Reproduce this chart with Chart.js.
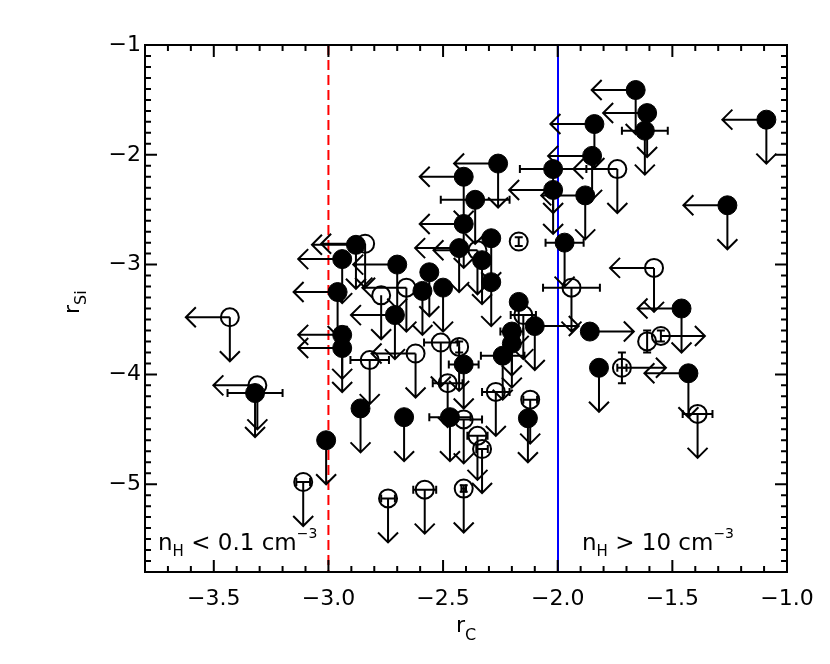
<!DOCTYPE html>
<html>
<head>
<meta charset="utf-8">
<script src="https://cdn.jsdelivr.net/npm/chart.js@4.4.1/dist/chart.umd.min.js"></script>
<style>
  html, body { margin: 0; padding: 0; background: #fff; }
  #wrap { width: 830px; height: 664px; }
</style>
</head>
<body>
<div id="wrap"><canvas id="c"></canvas></div>
<script>
// r_Si vs r_C, upper limits as arrows
const X_TICKS = [-3.5, -3.0, -2.5, -2.0, -1.5, -1.0];
const Y_TICKS = [-5, -4, -3, -2, -1];

const rC = [
  -3.43, -3.31, -3.32, -3.11, -3.01, -2.86, -2.74, -2.58, -2.41, -2.67,
  -2.47, -2.41, -2.48, -2.41, -2.51, -2.43, -2.27, -2.12, -2.13, -2.35,
  -2.33, -2.24, -2.20, -2.20, -2.10, -2.15, -2.17, -2.29, -2.50, -2.59,
  -2.66, -2.56, -2.77, -2.70, -2.71, -2.88, -2.84, -2.94, -2.96, -2.94,
  -2.94, -2.82, -2.62, -2.33, -2.35, -2.43, -2.29, -2.41, -2.36, -2.41,
  -2.26, -2.17, -1.97, -1.94, -2.02, -2.02, -1.88, -1.84, -1.85, -1.74,
  -1.66, -1.61, -1.62, -1.09, -1.26, -1.58, -1.46, -1.86, -1.61, -1.55,
  -1.82, -1.72, -1.43, -1.39
];
const rSi = [
  -3.48, -4.10, -4.17, -4.98, -4.60, -4.31, -5.13, -5.05, -5.04, -4.39,
  -4.39, -4.41, -4.08, -3.91, -3.71, -3.75, -4.16, -4.23, -4.40, -4.56,
  -4.68, -3.83, -3.72, -3.61, -3.56, -3.46, -3.34, -3.16, -3.21, -3.24,
  -3.21, -3.07, -3.28, -3.00, -3.46, -2.82, -2.81, -2.95, -3.25, -3.64,
  -3.76, -3.87, -3.81, -2.96, -2.87, -2.85, -2.76, -2.63, -2.41, -2.20,
  -2.08, -2.79, -2.80, -3.21, -2.13, -2.32, -2.37, -1.72, -2.01, -2.13,
  -1.41, -1.62, -1.78, -1.68, -2.46, -3.03, -3.40, -3.61, -3.70, -3.65,
  -3.94, -3.94, -3.99, -4.36
];
// 1 = filled circle, 0 = open circle
const filled = [
  0, 0, 1, 0, 1, 1, 0, 0, 0, 1,
  1, 0, 0, 1, 0, 0, 0, 0, 1, 0,
  0, 1, 1, 1, 1, 0, 1, 1, 1, 1,
  0, 1, 0, 1, 1, 1, 0, 1, 1, 1,
  1, 0, 0, 1, 0, 1, 1, 1, 1, 1,
  1, 0, 1, 0, 1, 1, 1, 1, 1, 0,
  1, 1, 1, 1, 1, 0, 1, 1, 0, 0,
  1, 0, 1, 0
];
// limit on r_C: "<" upper, ">" lower, "" none
const limC = [
  "<", "<", "", "", "", "", "", "", "", "",
  "", "", "", "", "", "", "", "", "", "",
  "", "", "", "", ">", "", "", "", "", "",
  "<", "", "", "<", "<", "<", "<", "<", "<", "<",
  "<", "", "<", "", "<", "<", "", "<", "", "<",
  "<", "", "", "", "", "<", "<", "<", "<", "<",
  "<", "<", "", "<", "<", "<", "<", ">", "", ">",
  "", ">", "<", ""
];
// upper limit on r_Si
const limSi = [
  1, 1, 1, 1, 1, 1, 1, 1, 1, 1,
  1, 1, 1, 1, 1, 1, 1, 1, 1, 1,
  1, 1, 1, 1, 1, 1, 1, 1, 1, 1,
  1, 1, 1, 1, 1, 1, 1, 1, 1, 1,
  1, 1, 1, 1, 1, 1, 1, 1, 1, 1,
  1, 0, 1, 1, 1, 1, 1, 1, 1, 1,
  1, 1, 1, 1, 1, 1, 1, 0, 0, 0,
  1, 0, 1, 1
];
const errC = [
  0, 0, 0.12, 0.03, 0, 0, 0.03, 0.05, 0.01, 0,
  0.09, 0.08, 0.065, 0.065, 0.073, 0, 0.06, 0.03, 0, 0.044,
  0.025, 0.095, 0, 0.05, 0, 0.055, 0, 0, 0, 0,
  0, 0, 0, 0, 0, 0, 0, 0, 0, 0,
  0, 0.084, 0, 0, 0, 0, 0, 0, 0.15, 0,
  0, 0, 0.083, 0.124, 0.145, 0, 0, 0, 0, 0,
  0, 0, 0.10, 0, 0, 0, 0, 0, 0, 0,
  0, 0.02, 0, 0.065
];
const errSi = [
  0, 0, 0, 0, 0, 0, 0, 0, 0.03, 0,
  0, 0, 0, 0, 0, 0.05, 0, 0, 0, 0,
  0, 0, 0, 0, 0, 0, 0, 0, 0, 0,
  0, 0, 0, 0, 0, 0, 0, 0, 0, 0,
  0, 0, 0, 0, 0, 0, 0, 0, 0, 0,
  0, 0.04, 0, 0, 0, 0, 0, 0, 0, 0,
  0, 0, 0, 0, 0, 0, 0, 0, 0.10, 0.05,
  0, 0.14, 0, 0
];

const FONT = "'DejaVu Sans', 'Liberation Sans', sans-serif";
const ARROW = 44, HEAD = 10, CAP = 4;
const MINUS = "\u2212";

function pts(flag) {
  const out = [];
  rC.forEach((x, i) => { if (filled[i] === flag) out.push({ x, y: rSi[i] }); });
  return out;
}

function arrow(ctx, x0, y0, x1, y1) {
  const a = Math.atan2(y1 - y0, x1 - x0), h = HEAD * Math.SQRT2;
  ctx.beginPath();
  ctx.moveTo(x0, y0); ctx.lineTo(x1, y1);
  ctx.moveTo(x1 - h * Math.cos(a - Math.PI / 4), y1 - h * Math.sin(a - Math.PI / 4));
  ctx.lineTo(x1, y1);
  ctx.lineTo(x1 - h * Math.cos(a + Math.PI / 4), y1 - h * Math.sin(a + Math.PI / 4));
  ctx.stroke();
}

// parts: [text, size, dy]
function richWidth(ctx, parts) {
  let w = 0;
  parts.forEach(([t, s]) => { ctx.font = s + "px " + FONT; w += ctx.measureText(t).width; });
  return w;
}
function rich(ctx, parts, x, y) {
  parts.forEach(([t, s, dy]) => {
    ctx.font = s + "px " + FONT;
    ctx.fillText(t, x, y + dy);
    x += ctx.measureText(t).width;
  });
}

const marks = {
  id: "marks",
  beforeDatasetsDraw(chart) {
    const { ctx, chartArea: a, scales: { x, y } } = chart;
    ctx.save();
    // n_H boundaries
    let px = x.getPixelForValue(-3.0);
    ctx.strokeStyle = "#ff0000"; ctx.lineWidth = 2; ctx.setLineDash([10, 5]);
    ctx.beginPath(); ctx.moveTo(px, a.top); ctx.lineTo(px, a.bottom); ctx.stroke();
    px = Math.round(x.getPixelForValue(-2.0));
    ctx.strokeStyle = "#0000ff"; ctx.lineWidth = 2; ctx.setLineDash([]);
    ctx.beginPath(); ctx.moveTo(px, a.top); ctx.lineTo(px, a.bottom); ctx.stroke();

    ctx.strokeStyle = "#000"; ctx.lineWidth = 2;
    rC.forEach((v, i) => {
      const px = x.getPixelForValue(v), py = y.getPixelForValue(rSi[i]);
      if (errC[i]) {
        const l = x.getPixelForValue(v - errC[i]), r = x.getPixelForValue(v + errC[i]);
        ctx.beginPath();
        ctx.moveTo(l, py); ctx.lineTo(r, py);
        ctx.moveTo(l, py - CAP); ctx.lineTo(l, py + CAP);
        ctx.moveTo(r, py - CAP); ctx.lineTo(r, py + CAP);
        ctx.stroke();
      }
      if (errSi[i]) {
        const t = y.getPixelForValue(rSi[i] + errSi[i]), b = y.getPixelForValue(rSi[i] - errSi[i]);
        ctx.beginPath();
        ctx.moveTo(px, t); ctx.lineTo(px, b);
        ctx.moveTo(px - CAP, t); ctx.lineTo(px + CAP, t);
        ctx.moveTo(px - CAP, b); ctx.lineTo(px + CAP, b);
        ctx.stroke();
      }
      if (limC[i] === "<") arrow(ctx, px, py, px - ARROW, py);
      if (limC[i] === ">") arrow(ctx, px, py, px + ARROW, py);
      if (limSi[i]) arrow(ctx, px, py, px, py + ARROW);
    });
    ctx.restore();
  },
  afterDraw(chart) {
    const { ctx, chartArea: a, scales: { x, y } } = chart;
    ctx.save();
    ctx.strokeStyle = "#000"; ctx.lineWidth = 2;
    ctx.strokeRect(a.left, a.top, a.right - a.left, a.bottom - a.top);

    // inward ticks on all four sides
    ctx.beginPath();
    for (let k = -37; k <= -11; k++) {
      const px = x.getPixelForValue(k / 10), len = k % 5 === 0 ? 12 : 6;
      ctx.moveTo(px, a.bottom); ctx.lineTo(px, a.bottom - len);
      ctx.moveTo(px, a.top); ctx.lineTo(px, a.top + len);
    }
    for (let k = -57; k <= -11; k++) {
      const py = y.getPixelForValue(k / 10), len = k % 10 === 0 ? 12 : 6;
      ctx.moveTo(a.left, py); ctx.lineTo(a.left + len, py);
      ctx.moveTo(a.right, py); ctx.lineTo(a.right - len, py);
    }
    ctx.stroke();

    ctx.fillStyle = "#000"; ctx.textAlign = "left"; ctx.textBaseline = "alphabetic";
    // x title r_C
    const xt = [["r", 22, 0], ["C", 16, 8]];
    rich(ctx, xt, (a.left + a.right) / 2 - richWidth(ctx, xt) / 2, 632);
    // y title r_Si
    ctx.save();
    ctx.translate(79, 314);
    ctx.rotate(-Math.PI / 2);
    rich(ctx, [["r", 22, 0], ["Si", 16, 7]], 0, 0);
    ctx.restore();

    // density labels
    rich(ctx, [["n", 23, 0], ["H", 15, 6], [" < 0.1 cm", 23, 0], [MINUS + "3", 14, -12]], 158, 550);
    rich(ctx, [["n", 23, 0], ["H", 15, 6], [" > 10 cm", 23, 0], [MINUS + "3", 14, -12]], 582, 550);
    ctx.restore();
  }
};

const tickFont = { family: FONT, size: 22 };
const fmt = (v, d) => (v < 0 ? MINUS : "") + Math.abs(v).toFixed(d);

new Chart(document.getElementById("c"), {
  type: "scatter",
  data: {
    datasets: [
      {
        data: pts(1),
        pointRadius: 9.5, pointHoverRadius: 9.5,
        pointBackgroundColor: "#000", pointBorderColor: "#000", pointBorderWidth: 1,
      },
      {
        data: pts(0),
        pointRadius: 9, pointHoverRadius: 9,
        pointBackgroundColor: "rgba(0,0,0,0)", pointBorderColor: "#000", pointBorderWidth: 2,
      },
    ],
  },
  options: {
    responsive: true,
    maintainAspectRatio: false,
    animation: false,
    events: [],
    layout: { padding: { top: 45, right: 43, left: 0, bottom: 0 } },
    plugins: { legend: { display: false }, tooltip: { enabled: false } },
    scales: {
      x: {
        type: "linear", min: -3.8, max: -1.0,
        grid: { display: false }, border: { display: false },
        afterBuildTicks: (s) => { s.ticks = X_TICKS.map((v) => ({ value: v })); },
        afterFit: (s) => { s.height = 92; },
        ticks: { color: "#000", font: tickFont, padding: 6, maxRotation: 0, autoSkip: false,
                 callback: (v) => fmt(v, 1) },
      },
      y: {
        type: "linear", min: -5.8, max: -1.0,
        grid: { display: false }, border: { display: false },
        afterBuildTicks: (s) => { s.ticks = Y_TICKS.map((v) => ({ value: v })); },
        afterFit: (s) => { s.width = 145; },
        ticks: { color: "#000", font: tickFont, padding: -4, autoSkip: false,
                 callback: (v) => fmt(v, 0) },
      },
    },
  },
  plugins: [marks],
});
</script>
</body>
</html>
